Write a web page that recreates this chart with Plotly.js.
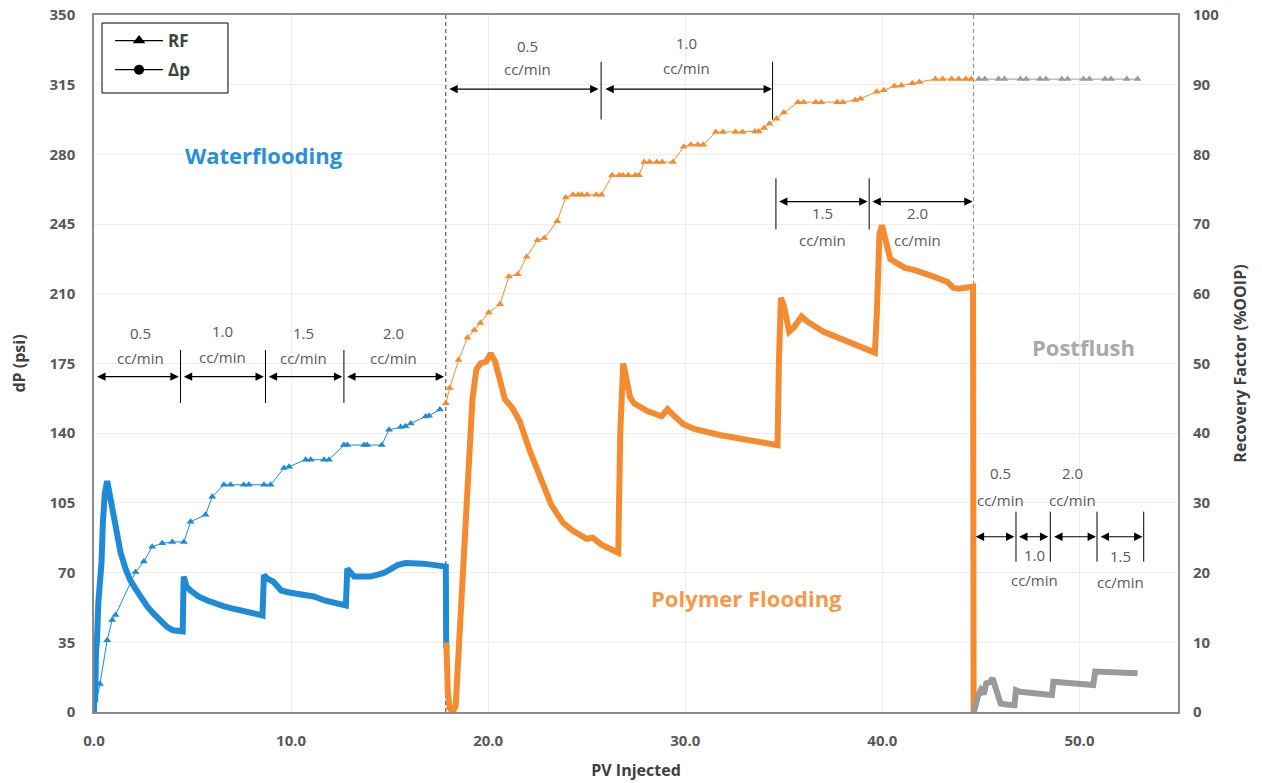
<!DOCTYPE html>
<html>
<head>
<meta charset="utf-8">
<script src="https://cdn.plot.ly/plotly-3.0.1.min.js"></script>
<style>
  html, body { margin: 0; padding: 0; background: #ffffff; }
  #chart { width: 1262px; height: 783px; }
</style>
</head>
<body>
<div id="chart"></div>
<script>
// ---- Pressure drop (psi) vs pore volumes injected ----
const pvWater = [0.0, 0.03, 0.06, 0.1, 0.15, 0.22, 0.3, 0.38, 0.45, 0.55, 0.67, 0.78, 0.9, 1.0, 1.2, 1.35, 1.6, 1.85, 2.1, 2.36, 2.7, 3.0, 3.35, 3.7, 4.0, 4.4, 4.5, 4.55, 4.7, 4.9, 5.3, 5.75, 6.2, 6.6, 7.0, 7.4, 7.9, 8.45, 8.55, 8.62, 8.8, 9.1, 9.5, 9.9, 10.3, 10.7, 11.15, 11.7, 12.2, 12.7, 12.78, 12.85, 13.0, 13.2, 13.6, 14.0, 14.4, 14.7, 15.1, 15.4, 15.8, 16.2, 16.7, 17.1, 17.5, 17.85, 17.87];
const dpWater = [0, 38, 5, 30, 36, 55, 63, 75, 95, 110, 116, 110, 102, 96, 85, 80, 72, 66, 62, 58, 53, 49.6, 46, 42.8, 41, 40, 40.5, 68, 63, 61, 58, 56, 54, 53, 52, 51, 50, 48, 48.5, 68.8, 67, 65.4, 61, 60, 59.6, 59, 58, 56, 54.6, 53, 53.5, 72, 70, 68, 68, 68, 69, 69.8, 72, 73.8, 74.8, 75, 74.5, 74, 73.5, 73, 32];

const pvPolymer = [17.88, 17.95, 18.05, 18.2, 18.35, 18.5, 18.7, 18.86, 19.05, 19.2, 19.4, 19.6, 19.9, 20.13, 20.35, 20.6, 20.85, 21.2, 21.6, 22.1, 22.67, 23.2, 23.8, 24.3, 25.0, 25.3, 25.75, 26.1, 26.5, 26.6, 26.7, 26.85, 27.0, 27.2, 27.4, 28.1, 28.8, 29.1, 29.4, 29.9, 30.5, 31.2, 31.8, 32.4, 33.0, 33.5, 34.0, 34.5, 34.68, 34.75, 34.85, 35.0, 35.27, 35.5, 35.9, 36.2, 36.6, 37.0, 37.5, 38.0, 38.45, 38.9, 39.35, 39.62, 39.72, 39.85, 39.98, 40.15, 40.4, 40.8, 41.15, 41.6, 42.0, 42.5, 42.95, 43.3, 43.6, 43.87, 44.2, 44.6, 44.63];
const dpPolymer = [35, 10, 2, 0, 3, 29, 65, 93, 128, 157, 172, 175, 176, 180, 176, 166, 157, 153, 146, 131.5, 116.6, 104, 95, 91, 87, 87.5, 84, 82, 80.5, 80, 140, 175, 168, 158, 155, 151, 148.5, 152, 149, 144.5, 142, 140, 139, 138, 137, 136, 135, 134.8, 134, 175, 208, 204, 191, 193, 198.6, 196, 193.3, 191, 189, 187, 185, 183, 181.6, 180.5, 200, 240, 244.4, 236, 227.4, 225, 223, 222, 221, 219, 217.3, 216, 213, 212.5, 213, 213.6, 0];

const pvPost = [44.62, 44.7, 44.85, 45.0, 45.15, 45.27, 45.45, 45.6, 45.75, 45.85, 46.0, 46.3, 46.7, 46.78, 47.0, 47.7, 48.2, 48.6, 48.68, 49.2, 49.7, 50.2, 50.7, 50.8, 51.3, 51.8, 52.4, 52.95];
const dpPost = [0, 2, 8, 11, 9, 14.4, 15, 16.9, 12, 7.7, 4.2, 3.8, 3.4, 11, 10.2, 9.4, 9, 8.5, 15.2, 14.8, 14.4, 14, 13.6, 20.3, 20.1, 19.8, 19.6, 19.4];

// ---- Recovery factor (%OOIP) vs pore volumes injected ----
const rfPvWater = [0.0, 0.3, 0.67, 0.92, 1.09, 2.11, 2.53, 2.95, 3.46, 3.97, 4.56, 4.9, 5.66, 6.0, 6.59, 6.93, 7.6, 7.86, 8.62, 8.96, 9.64, 9.9, 10.74, 11.0, 11.67, 11.92, 12.68, 12.85, 13.7, 13.86, 14.6, 14.97, 15.56, 15.8, 16.07, 16.83, 17.0, 17.55];
const rfWater = [0, 4, 10.3, 13.2, 13.9, 20.1, 21.6, 23.7, 24.2, 24.4, 24.4, 27.3, 28.3, 30.9, 32.6, 32.6, 32.6, 32.6, 32.6, 32.6, 35.0, 35.2, 36.2, 36.2, 36.2, 36.2, 38.3, 38.3, 38.3, 38.3, 38.3, 40.5, 40.9, 41.0, 41.4, 42.4, 42.5, 43.4];

const rfPvPolymer = [17.85, 18.05, 18.5, 18.95, 19.3, 19.6, 20.03, 20.6, 21.05, 21.5, 21.95, 22.5, 22.85, 23.5, 23.93, 24.3, 24.57, 24.75, 25.02, 25.48, 25.75, 26.29, 26.65, 26.84, 27.11, 27.47, 27.65, 27.92, 28.19, 28.56, 28.83, 29.37, 29.92, 30.28, 30.64, 30.91, 31.55, 31.91, 32.55, 32.91, 33.54, 33.72, 34.0, 34.27, 34.63, 35.0, 35.72, 36.0, 36.62, 36.9, 37.71, 37.99, 38.62, 38.89, 39.71, 40.07, 40.61, 40.97, 41.52, 41.88, 42.69, 43.06, 43.51, 43.87, 44.24, 44.51];
const rfPolymer = [44.3, 46.5, 50.5, 53.7, 54.8, 55.8, 57.3, 58.5, 62.5, 62.8, 65.3, 67.7, 68.0, 70.4, 73.8, 74.2, 74.2, 74.2, 74.2, 74.2, 74.2, 77.0, 77.0, 77.0, 77.0, 77.0, 77.0, 78.9, 78.9, 78.9, 78.9, 78.9, 81.1, 81.4, 81.4, 81.4, 83.2, 83.2, 83.2, 83.2, 83.3, 83.3, 83.8, 84.4, 85.1, 86.0, 87.5, 87.5, 87.5, 87.5, 87.5, 87.5, 87.8, 88.0, 89.0, 89.2, 89.8, 89.9, 90.2, 90.4, 90.8, 90.8, 90.8, 90.8, 90.8, 90.8];

const rfPvPost = [44.9, 45.2, 45.9, 46.2, 47.0, 47.3, 48.0, 48.3, 49.1, 49.4, 50.2, 50.5, 51.3, 51.6, 52.4, 52.95];
const rfPost = [90.8, 90.8, 90.8, 90.8, 90.8, 90.8, 90.8, 90.8, 90.8, 90.8, 90.8, 90.8, 90.8, 90.8, 90.8, 90.8];

// ---- x-axis tick labels ----
const pvTickVals = [0, 10, 20, 30, 40, 50];
const pvTickText = ['0.0', '10.0', '20.0', '30.0', '40.0', '50.0'];

// ---- styling ----
const BLUE = '#1f8ad6';
const ORANGE = '#f58b31';
const GREY = '#9a9a9a';
const LABEL = '#595959';
const FONT = '"Open Sans", "Liberation Sans", sans-serif';

function dpTrace(x, y, color) {
  return { x: x, y: y, type: 'scatter', mode: 'lines', yaxis: 'y', showlegend: false,
           line: { color: color, width: 6 }, hoverinfo: 'x+y' };
}
function rfTrace(x, y, color) {
  return { x: x, y: y, type: 'scatter', mode: 'lines+markers', yaxis: 'y2', showlegend: false,
           line: { color: color, width: 1 },
           marker: { symbol: 'triangle-up', size: 7, color: color }, hoverinfo: 'x+y' };
}

const traces = [
  dpTrace(pvWater, dpWater, BLUE),
  dpTrace(pvPolymer, dpPolymer, ORANGE),
  dpTrace(pvPost, dpPost, GREY),
  rfTrace(rfPvWater, rfWater, BLUE),
  rfTrace(rfPvPolymer, rfPolymer, ORANGE),
  rfTrace(rfPvPost, rfPost, GREY),
  // legend keys
  { x: [-10], y: [-10], name: 'RF', legendgroup: 'rf', type: 'scatter', mode: 'lines+markers', yaxis: 'y',
    line: { color: '#000000', width: 1.3 }, marker: { symbol: 'triangle-up', size: 11, color: '#000000' } },
  { x: [-10], y: [-10], name: 'Δp', legendgroup: 'dp', type: 'scatter', mode: 'lines+markers', yaxis: 'y',
    line: { color: '#000000', width: 1.3 }, marker: { symbol: 'circle', size: 10, color: '#000000' } }
];

// injection-rate brackets: [start, end] along the arrow row (x in PV, y in psi)
const rateRows = [
  { y: 168.4, spans: [[0.08, 4.3], [4.48, 8.62], [8.79, 12.6], [12.77, 17.76]],
    ticks: [4.39, 8.7, 12.68], tickY: [155.2, 181.8] },
  { y: 312.8, spans: [[17.95, 25.6], [25.87, 34.4]],
    ticks: [25.73, 34.43], tickY: [297.5, 326.5] },
  { y: 256.3, spans: [[34.68, 39.25], [39.42, 44.58]],
    ticks: [34.6, 39.33], tickY: [242.3, 268] },
  { y: 88, spans: [[44.66, 46.7], [46.86, 48.42], [48.64, 50.84], [51.0, 53.2]],
    ticks: [46.78, 48.52, 50.89, 53.26], tickY: [75.5, 100.6] }
];

// rate labels: [x, y of rate, y of unit, text]
const rateLabels = [
  [2.36, 190.4, 177.8, '0.5'], [6.5, 191.5, 178.5, '1.0'], [10.63, 190.4, 177.8, '1.5'], [15.2, 190.4, 177.8, '2.0'],
  [21.97, 334.5, 322.8, '0.5'], [30.05, 336, 323.6, '1.0'],
  [36.96, 250.5, 237, '1.5'], [41.8, 250.5, 237, '2.0'],
  [46.0, 119.8, 106.5, '0.5'], [49.65, 119.8, 106.5, '2.0'],
  [47.7, 78.9, 66.3, '1.0'], [52.1, 78.4, 65.4, '1.5']
];

const shapes = [
  { type: 'line', xref: 'x', yref: 'y', x0: 17.85, x1: 17.85, y0: 0, y1: 350,
    line: { color: '#3a3a3a', width: 1, dash: '4px,3px' }, layer: 'below' },
  { type: 'line', xref: 'x', yref: 'y', x0: 44.62, x1: 44.62, y0: 0, y1: 350,
    line: { color: '#8a8a8a', width: 1, dash: '4px,3px' }, layer: 'below' },
  // frame around the legend
  { type: 'rect', xref: 'paper', yref: 'paper', x0: 0.0074, x1: 0.1236, y0: 0.8881, y1: 0.9885,
    fillcolor: '#ffffff', line: { color: '#000000', width: 1 }, layer: 'above' }
];
const annotations = [];

rateRows.forEach(function (row) {
  row.spans.forEach(function (s) {
    annotations.push({ xref: 'x', yref: 'y', axref: 'x', ayref: 'y',
      x: s[1], y: row.y, ax: s[0], ay: row.y, text: '', showarrow: true,
      arrowside: 'end+start', arrowhead: 2, arrowsize: 1.4, arrowwidth: 1.2,
      arrowcolor: '#000000', standoff: 0, startstandoff: 0 });
  });
  row.ticks.forEach(function (t) {
    shapes.push({ type: 'line', xref: 'x', yref: 'y', x0: t, x1: t, y0: row.tickY[0], y1: row.tickY[1],
      line: { color: '#000000', width: 1 } });
  });
});

rateLabels.forEach(function (l) {
  annotations.push({ xref: 'x', yref: 'y', x: l[0], y: l[1], text: l[3], showarrow: false,
    font: { family: FONT, size: 15, color: LABEL } });
  annotations.push({ xref: 'x', yref: 'y', x: l[0], y: l[2], text: 'cc/min', showarrow: false,
    font: { family: FONT, size: 15, color: LABEL } });
});

annotations.push(
  { xref: 'x', yref: 'y', x: 8.65, y: 279.8, text: '<b>Waterflooding</b>', showarrow: false,
    font: { family: FONT, size: 22, color: '#2a8fd6' } },
  { xref: 'x', yref: 'y', x: 33.1, y: 57, text: '<b>Polymer Flooding</b>', showarrow: false,
    font: { family: FONT, size: 22, color: '#f59a4c' } },
  { xref: 'x', yref: 'y', x: 50.2, y: 183.5, text: '<b>Postflush</b>', showarrow: false,
    font: { family: FONT, size: 22, color: '#a9a9a9' } }
);

const axisBase = {
  showline: true, mirror: true, linecolor: '#8c8c8c', linewidth: 1.5,
  zeroline: false, ticks: '', ticklabelstandoff: 14,
  tickfont: { family: FONT, size: 15, color: LABEL, weight: 'bold' }
};

const layout = {
  width: 1262, height: 783,
  margin: { l: 94, r: 84, t: 15, b: 71, pad: 0 },
  paper_bgcolor: '#ffffff', plot_bgcolor: '#ffffff',
  font: { family: FONT, color: LABEL },
  showlegend: true,
  legend: { x: 0.0148, y: 0.9885, xanchor: 'left', yanchor: 'top',
            bgcolor: 'rgba(0,0,0,0)', borderwidth: 0,
            font: { family: FONT, size: 17, color: '#404040', weight: 'bold' },
            traceorder: 'grouped', tracegroupgap: 4, itemwidth: 48 },
  xaxis: Object.assign({}, axisBase, {
    range: [0, 55], tickvals: pvTickVals, ticktext: pvTickText,
    showgrid: true, gridcolor: '#ededed', gridwidth: 1,
    title: { text: 'PV Injected', standoff: 16,
             font: { family: FONT, size: 16, color: '#404040', weight: 'bold' } }
  }),
  yaxis: Object.assign({}, axisBase, {
    range: [0, 350], dtick: 35, tick0: 0,
    showgrid: true, gridcolor: '#ededed', gridwidth: 1,
    title: { text: 'dP (psi)', standoff: 20,
             font: { family: FONT, size: 16, color: '#404040', weight: 'bold' } }
  }),
  yaxis2: Object.assign({}, axisBase, {
    overlaying: 'y', side: 'right', range: [0, 100], dtick: 10, tick0: 0,
    showgrid: false, showline: false,
    title: { text: 'Recovery Factor (%OOIP)', standoff: 16,
             font: { family: FONT, size: 16, color: '#404040', weight: 'bold' } }
  }),
  shapes: shapes,
  annotations: annotations
};

Plotly.newPlot('chart', traces, layout, { displayModeBar: false, responsive: false });
</script>
</body>
</html>
